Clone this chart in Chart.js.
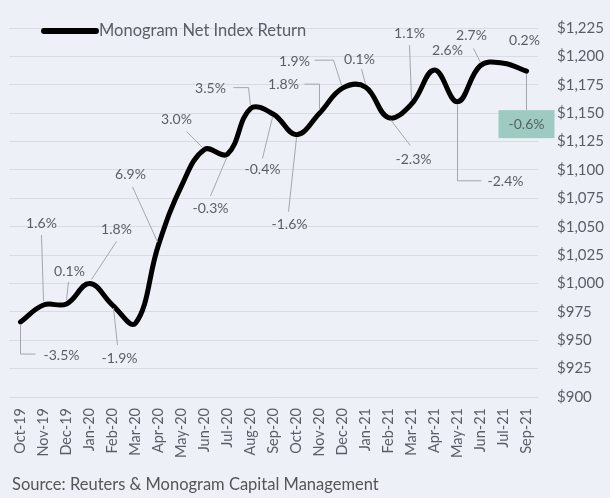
<!DOCTYPE html>
<html>
<head>
<meta charset="utf-8">
<script src="https://cdn.jsdelivr.net/npm/chart.js@4/dist/chart.umd.min.js"></script>
<style>
    html, body { margin: 0; padding: 0; background: #edf1f7; }
    #wrap { position: relative; width: 610px; height: 498px; }
    #source {
        position: absolute; left: 12px; top: 474px;
        font: 16.5px Lato, sans-serif; color: #555; white-space: nowrap;
    }
</style>
</head>
<body>
<div id="wrap">
    <canvas id="navChart" width="610" height="498"></canvas>
    <div id="source">Source: Reuters &amp; Monogram Capital Management</div>
</div>
<script>
var months = ['Oct-19', 'Nov-19', 'Dec-19', 'Jan-20', 'Feb-20', 'Mar-20', 'Apr-20', 'May-20',
    'Jun-20', 'Jul-20', 'Aug-20', 'Sep-20', 'Oct-20', 'Nov-20', 'Dec-20', 'Jan-21', 'Feb-21',
    'Mar-21', 'Apr-21', 'May-21', 'Jun-21', 'Jul-21', 'Sep-21'];
var indexValue = [966, 981, 982, 1000, 981, 965, 1034, 1086, 1118, 1114, 1154, 1149,
    1131, 1150, 1172, 1173, 1146, 1158, 1188, 1160, 1192, 1194, 1187];
var monthlyReturn = ['-3.5%', '1.6%', '0.1%', '1.8%', '-1.9%', null, '6.9%', null, '3.0%',
    '-0.3%', '3.5%', '-0.4%', '-1.6%', '1.8%', '1.9%', '0.1%', '-2.3%', '1.1%', '2.6%',
    '-2.4%', '2.7%', '0.2%', '-0.6%'];
var yMin = 900, yMax = 1225, yStep = 25;
var seriesName = 'Monogram Net Index Return';

(function () {
    'use strict';

    // label placement relative to each point: text centre [dx, dy] and leader polyline
    var labelPos = [
        { t: [41, 33], l: [[0, 2], [0, 32], [15, 32]] },
        { t: [-2, -82], l: [[-2, -70], [0, -4]] },
        { t: [3, -32], l: [[2, -22], [0, -4]] },
        { t: [27, -54], l: [[27, -42], [2, -4]] },
        { t: [7, 53], l: [[5, 40], [1, 3]] },
        null,
        { t: [-28, -70], l: [[-26, -58], [-1, -3]] },
        null,
        { t: [-28, -30], l: [[-18, -18], [-2, -2]] },
        { t: [-17, 54], l: [[-17, 42], [-1, 4]] },
        { t: [-40, -20], l: [[-17, -21], [-2, -21], [0, -3]] },
        { t: [-11, 55], l: [[-11, 44], [-1, 3]] },
        { t: [-7, 90], l: [[-8, 77], [0, 3]] },
        { t: [-36, -29], l: [[-15, -29], [0, -29], [0, -3]] },
        { t: [-48, -27], l: [[-28, -28], [-9, -28], [-1, -3]] },
        { t: [-6, -28], l: [[-4, -18], [0, -3]] },
        { t: [25, 42], l: [[22, 28], [2, 2]] },
        { t: [-2, -71], l: [[-2, -59], [0, -4]] },
        { t: [13, -20], l: null },
        { t: [48, 80], l: [[0, 3], [0, 79], [24, 79]] },
        { t: [-9, -30], l: [[-7, -17], [0, -3]] },
        { t: [21, -23], l: null },
        { t: [0, 53], l: [[0, 3], [0, 39]], box: true }
    ];

    var labelPlugin = {
        id: 'returnLabels',
        afterDatasetsDraw: function (chart) {
            var ctx = chart.ctx;
            var pts = chart.getDatasetMeta(0).data;
            ctx.save();
            ctx.font = '14px Lato, sans-serif';
            ctx.textAlign = 'center';
            ctx.textBaseline = 'middle';
            pts.forEach(function (p, i) {
                var txt = monthlyReturn[i], pos = labelPos[i];
                if (!txt || !pos) return;
                if (pos.l) {
                    ctx.strokeStyle = '#a3a7ad';
                    ctx.lineWidth = 1;
                    ctx.beginPath();
                    pos.l.forEach(function (q, k) {
                        if (k === 0) ctx.moveTo(p.x + q[0], p.y + q[1]);
                        else ctx.lineTo(p.x + q[0], p.y + q[1]);
                    });
                    ctx.stroke();
                }
                var cx = p.x + pos.t[0], cy = p.y + pos.t[1];
                if (pos.box) {
                    ctx.fillStyle = '#9dcbc1';
                    ctx.fillRect(cx - 28, cy - 14, 56, 28);
                }
                ctx.fillStyle = '#595e66';
                ctx.fillText(txt, cx, cy);
            });
            ctx.restore();
        }
    };

    var legendPlugin = {
        id: 'insideLegend',
        afterDraw: function (chart) {
            var ctx = chart.ctx;
            ctx.save();
            ctx.strokeStyle = '#000';
            ctx.lineWidth = 6;
            ctx.lineCap = 'round';
            ctx.beginPath();
            ctx.moveTo(44, 31);
            ctx.lineTo(96, 31);
            ctx.stroke();
            ctx.font = '16.5px Lato, sans-serif';
            ctx.fillStyle = '#595e66';
            ctx.textAlign = 'left';
            ctx.textBaseline = 'middle';
            ctx.fillText(seriesName, 99, 31);
            ctx.restore();
        }
    };

    document.addEventListener('DOMContentLoaded', function () {
        var el = document.getElementById('navChart');
        new Chart(el.getContext('2d'), {
            type: 'line',
            data: {
                labels: months,
                datasets: [{
                    label: seriesName,
                    data: indexValue,
                    borderColor: '#000',
                    borderWidth: 5,
                    tension: 0.4,
                    pointRadius: 0,
                    borderCapStyle: 'round',
                    borderJoinStyle: 'round',
                    fill: false
                }]
            },
            options: {
                responsive: false,
                animation: false,
                layout: { padding: { top: 18, left: 9, right: 0, bottom: 0 } },
                plugins: {
                    legend: { display: false },
                    tooltip: { enabled: false }
                },
                scales: {
                    x: {
                        offset: true,
                        grid: { display: false, drawTicks: false },
                        border: { display: false },
                        ticks: {
                            autoSkip: false,
                            minRotation: 90,
                            maxRotation: 90,
                            padding: 11,
                            color: '#595e66',
                            font: { family: 'Lato', size: 14.5 }
                        },
                        afterFit: function (s) { s.height = 101; }
                    },
                    y: {
                        position: 'right',
                        min: yMin,
                        max: yMax,
                        grid: { color: '#d8dce2', lineWidth: 1, drawTicks: false },
                        border: { display: false },
                        ticks: {
                            stepSize: yStep,
                            padding: 19,
                            color: '#595e66',
                            font: { family: 'Lato', size: 15 },
                            callback: function (v) { return '$' + v.toLocaleString('en-US'); }
                        },
                        afterFit: function (s) { s.width = 72; }
                    }
                }
            },
            plugins: [labelPlugin, legendPlugin]
        });
    });
})();
</script>
</body>
</html>
